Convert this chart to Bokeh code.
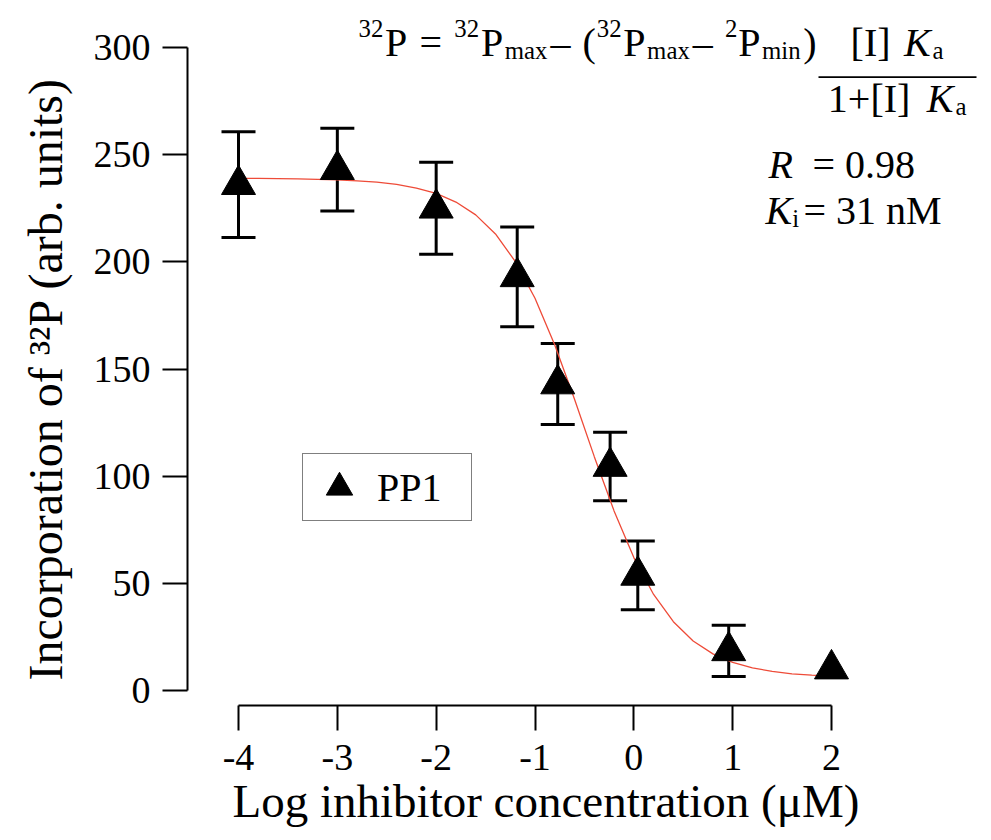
from bokeh.plotting import figure
from bokeh.models import (ColumnDataSource, Whisker, TeeHead, FixedTicker, Label,
                          Legend, LegendItem, BoxAnnotation, Title)
from bokeh.embed import file_html
from bokeh.resources import INLINE

# ---------------- data ----------------
log_conc = [-4.0, -3.0, -2.0, -1.18, -0.77, -0.24, 0.04, 0.96, 2.0]
pp1_mean = [236.0, 243.0, 225.0, 193.0, 143.0, 104.5, 53.7, 18.5, 10.0]
pp1_err = [24.7, 19.3, 21.5, 23.3, 18.9, 16.0, 16.0, 12.0, None]

fit_x = [-4.0, -3.8, -3.6, -3.4, -3.2, -3.0, -2.8, -2.6, -2.4, -2.2, -2.0,
         -1.8, -1.6, -1.4, -1.2, -1.0, -0.8, -0.6, -0.4, -0.2, 0.0,
         0.2, 0.4, 0.6, 0.8, 1.0, 1.2, 1.4, 1.6, 1.8, 2.0]
fit_y = [238.9, 238.9, 238.8, 238.7, 238.5, 238.3, 237.8, 237.2, 236.1, 234.4, 231.9,
         227.9, 221.9, 213.0, 200.2, 183.0, 161.2, 135.9, 109.1, 83.8, 62.0,
         44.8, 32.1, 23.1, 17.1, 13.1, 10.6, 8.9, 7.8, 7.2, 6.7]

x_ticks = [-4, -3, -2, -1, 0, 1, 2]
x_tick_labels = ["-4", "-3", "-2", "-1", "0", "1", "2"]
y_ticks = [0, 50, 100, 150, 200, 250, 300]
y_tick_labels = ["0", "50", "100", "150", "200", "250", "300"]

series_name = "PP1"
x_title = "Log inhibitor concentration (\u03bcM)"
y_title = "Incorporation of \u00b3\u00b2P (arb. units)"

# ---------------- geometry (screen px of the 991x840 page) ----------------
W, H = 991, 840
PX_XM4, PX_X2 = 238.0, 831.0     # x = -4, x = 2
PX_Y0, PX_Y300 = 690.0, 47.0     # y = 0, y = 300
FR_L, FR_R, FR_T, FR_B = 187.0, 991.0, 0.0, 705.0
LABEL_DY = -14                   # baseline correction for Label text


def dx(px):
    return -4 + (px - PX_XM4) * 6.0 / (PX_X2 - PX_XM4)


def dy(py):
    return (PX_Y0 - py) * 300.0 / (PX_Y0 - PX_Y300)


SERIF = "Liberation Serif"

p = figure(width=W, height=H, output_backend="svg", toolbar_location=None,
           x_range=(dx(FR_L), dx(FR_R)), y_range=(dy(FR_B), dy(FR_T)),
           min_border_left=int(FR_L), min_border_right=int(W - FR_R),
           min_border_top=int(FR_T), min_border_bottom=int(H - FR_B))
p.outline_line_color = None
p.xgrid.visible = False
p.ygrid.visible = False
p.background_fill_color = "white"
p.border_fill_color = "white"

for ax, ticks, labels in ((p.xaxis[0], x_ticks, x_tick_labels), (p.yaxis[0], y_ticks, y_tick_labels)):
    ax.ticker = FixedTicker(ticks=ticks)
    ax.major_label_overrides = {t: l for t, l in zip(ticks, labels)}
    ax.axis_line_width = 2
    ax.axis_line_color = "black"
    ax.major_tick_line_width = 2
    ax.major_tick_line_color = "black"
    ax.major_tick_out = 25
    ax.major_tick_in = 0
    ax.minor_tick_line_color = None
    ax.major_label_text_font = SERIF
    ax.major_label_text_font_size = "38px"
    ax.major_label_text_color = "black"

p.xaxis.bounds = (x_ticks[0], x_ticks[-1])
p.yaxis.bounds = (y_ticks[0], y_ticks[-1])
p.xaxis.major_label_standoff = 14
p.yaxis.major_label_standoff = 12

# axis titles placed in the side panels
p.add_layout(Title(text=x_title, align="left", offset=int(232 - FR_L), vertical_align="bottom",
                   standoff=0, text_font=SERIF, text_font_size="47px",
                   text_font_style="normal", text_color="black"), "below")
p.add_layout(Title(text=y_title, align="left", offset=int(FR_B - 680), vertical_align="top",
                   standoff=34, text_font=SERIF, text_font_size="48px",
                   text_font_style="normal", text_color="black"), "left")

# ---------------- marks ----------------
idx = [i for i, e in enumerate(pp1_err) if e is not None]
wsrc = ColumnDataSource(dict(
    x=[log_conc[i] for i in idx],
    upper=[pp1_mean[i] + pp1_err[i] for i in idx],
    lower=[pp1_mean[i] - pp1_err[i] for i in idx],
))
whisk = Whisker(source=wsrc, base="x", upper="upper", lower="lower", dimension="height",
                line_width=3, line_color="black",
                upper_head=TeeHead(size=34, line_width=3, line_color="black"),
                lower_head=TeeHead(size=34, line_width=3, line_color="black"))
p.add_layout(whisk)

p.line(fit_x, fit_y, line_color="#ee4b38", line_width=1.3)

src = ColumnDataSource(dict(x=log_conc, y=pp1_mean))
sc = p.scatter("x", "y", source=src, marker="triangle", size=34,
               fill_color="black", line_color="black", line_width=1)

legend = Legend(items=[LegendItem(label=series_name, renderers=[sc])],
                location=(int(302 - FR_L), int(FR_B - 521)),
                glyph_width=72, glyph_height=66, padding=0, spacing=0, margin=0,
                label_standoff=2, label_width=94,
                label_text_font=SERIF, label_text_font_size="40px",
                label_text_color="black",
                border_line_color="black", border_line_width=1.5,
                background_fill_color="white", background_fill_alpha=1)
p.add_layout(legend)

# ---------------- text annotations ----------------
TW = {'0': .5, '1': .5, '2': .5, '3': .5, '8': .5, '9': .5, 'P': .556, '=': .564,
      ' ': .25, 'm': .778, 'a': .444, 'x': .5, '\u2013': .5, '(': .333, ')': .333,
      'i': .278, 'n': .5, '[': .333, ']': .333, 'I': .333, 'K': .722, '+': .564,
      'R': .667, '.': .25, 'M': .889}
TWI = {'K': .667, 'R': .611}

F = 40.0
SCRIPT = 0.62


def run_width(runs, k=1.0):
    w = 0.0
    for text, kind in runs:
        size = F * SCRIPT if kind in ("sup", "sub") else F
        tab = TWI if kind == "ni" else {}
        w += sum(tab.get(c, TW.get(c, .5)) for c in text) * size * k
    return w


def place(runs, x0, base, k=1.0):
    x = x0
    for text, kind in runs:
        size = F * SCRIPT if kind in ("sup", "sub") else F
        shift = -14 if kind == "sup" else (8 if kind == "sub" else 0)
        if kind != "gap":
            p.add_layout(Label(x=dx(x), y=dy(base + shift + LABEL_DY), text=text,
                               text_font=SERIF, text_font_size=f"{size:.1f}px",
                               text_font_style="italic" if kind == "ni" else "normal",
                               text_color="black", text_align="left",
                               text_baseline="alphabetic"))
        tab = TWI if kind == "ni" else {}
        x += sum(tab.get(c, TW.get(c, .5)) for c in text) * size * k
    return x


main_runs = [("32", "sup"), ("P", "n"), (" ", "gap"), ("=", "n"), (" ", "gap"),
             ("32", "sup"), ("P", "n"), ("max", "sub"), ("\u2013", "n"), (" ", "gap"),
             ("(", "n"), ("32", "sup"), ("P", "n"), ("max", "sub"), ("\u2013", "n"),
             (" ", "gap"), ("2", "sup"), ("P", "n"), ("min", "sub"), (")", "n")]
k_main = (817 - 358) / run_width(main_runs)
place(main_runs, 358, 56, k_main)

num_runs = [("[I]", "n"), (" ", "gap"), ("K", "ni"), ("a", "sub")]
den_runs = [("1+[I]", "n"), (" ", "gap"), ("K", "ni"), ("a", "sub")]
bar_l, bar_r = 818, 976
cx = (bar_l + bar_r) / 2
wn = run_width(num_runs, k_main)
wd = run_width(den_runs, k_main)
place(num_runs, cx - wn / 2, 56, k_main)
place(den_runs, cx - wd / 2, 112, k_main)
p.add_layout(BoxAnnotation(left=dx(bar_l), right=dx(bar_r), top=dy(75.8), bottom=dy(77.4),
                           fill_color="black", fill_alpha=1, line_color=None))

place([("R", "ni")], 768, 178)
place([("= 0.98", "n")], 812, 178)
place([("K", "ni"), ("i", "sub")], 765, 224)
place([("= 31 nM", "n")], 803, 224, 1.08)

open("out.html", "w").write(file_html(p, INLINE, title="PP1 inhibition"))
